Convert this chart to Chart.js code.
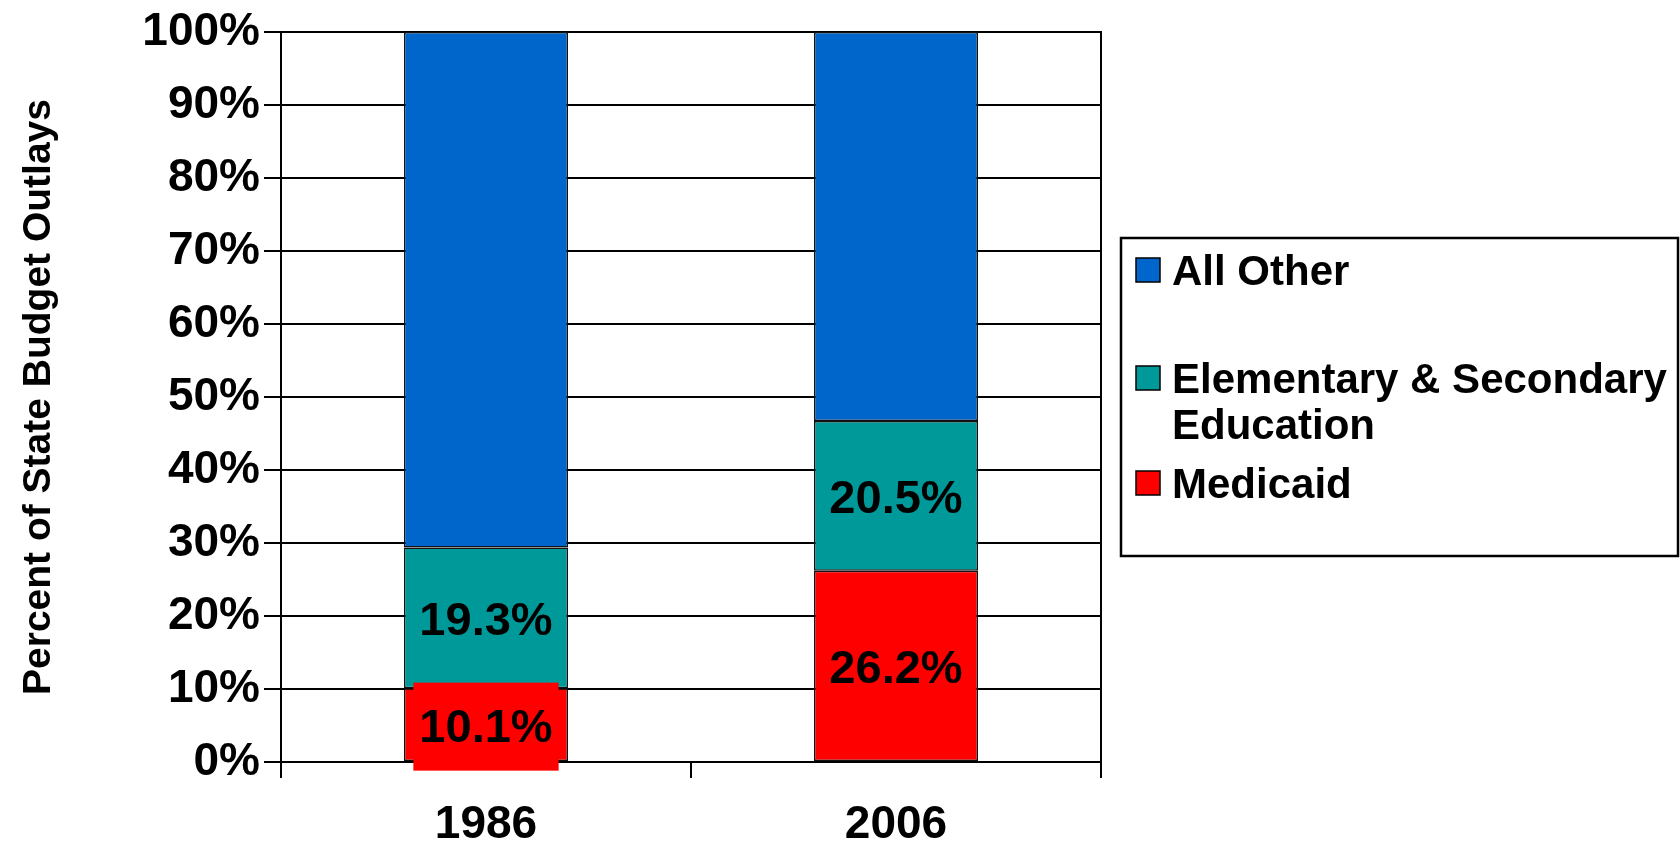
<!DOCTYPE html>
<html lang="en">
  <head>
    <meta charset="UTF-8" />
    <title>State Budget Outlays</title>
    <script src="https://cdn.jsdelivr.net/npm/chart.js@4/dist/chart.umd.min.js"></script>
    <style>
      body { margin: 0; background: #fff; }
      canvas { display: block; }
    </style>
  </head>
  <body>
    <canvas id="budget-chart" width="1680" height="858"></canvas>

    <script>
      // data
      const years = ["1986", "2006"];
      const medicaid = [10.1, 26.2];
      const education = [19.3, 20.5];
      const allOther = [70.6, 53.3];
      const yTicks = [0, 10, 20, 30, 40, 50, 60, 70, 80, 90, 100];

      const FONT = "'Liberation Sans', Arial, sans-serif";

      // labels in the middle of each segment, box filled with the bar colour
      const segmentLabels = {
        id: "segmentLabels",
        afterDatasetsDraw(chart) {
          const ctx = chart.ctx;
          ctx.save();
          ctx.font = "bold 47px " + FONT;
          ctx.textAlign = "center";
          ctx.textBaseline = "middle";
          chart.data.datasets.forEach((ds, i) => {
            if (!ds.showValue) return;
            chart.getDatasetMeta(i).data.forEach((bar, j) => {
              const text = ds.data[j].toFixed(1) + "%";
              const cy = (bar.y + bar.base) / 2 + 2;
              const w = ctx.measureText(text).width + 12;
              ctx.fillStyle = ds.backgroundColor;
              ctx.fillRect(bar.x - w / 2, cy - 44, w, 88);
              ctx.fillStyle = "#000";
              ctx.fillText(text, bar.x, cy + 2);
            });
          });
          ctx.restore();
        },
      };

      // right edge of the plot area
      const plotFrame = {
        id: "plotFrame",
        beforeDatasetsDraw(chart) {
          const { ctx, chartArea } = chart;
          ctx.save();
          ctx.strokeStyle = "#000";
          ctx.lineWidth = 2;
          ctx.beginPath();
          ctx.moveTo(chartArea.right, chartArea.top - 1);
          ctx.lineTo(chartArea.right, chartArea.bottom);
          ctx.stroke();
          ctx.restore();
        },
      };

      // boxed legend on the right, like the PowerPoint one
      const boxLegend = {
        id: "boxLegend",
        afterDraw(chart, args, opts) {
          const ctx = chart.ctx;
          ctx.save();
          ctx.strokeStyle = "#000";
          ctx.lineWidth = 2.5;
          ctx.strokeRect(opts.x, opts.y, opts.w, opts.h);
          ctx.font = "bold 42px " + FONT;
          ctx.textBaseline = "middle";
          const items = chart.data.datasets.slice().reverse();
          items.forEach((ds, k) => {
            const cy = opts.rows[k];
            ctx.fillStyle = ds.backgroundColor;
            ctx.fillRect(opts.x + 15, cy - 12, 24, 24);
            ctx.lineWidth = 1.5;
            ctx.strokeRect(opts.x + 15, cy - 12, 24, 24);
            // wrap words into lines
            const words = ds.label.split(" ");
            const lines = [];
            let cur = "";
            words.forEach((wd) => {
              const test = cur ? cur + " " + wd : wd;
              if (ctx.measureText(test).width > opts.textWidth && cur) {
                lines.push(cur);
                cur = wd;
              } else cur = test;
            });
            lines.push(cur);
            ctx.fillStyle = "#000";
            lines.forEach((ln, n) => {
              ctx.fillText(ln, opts.x + 51, cy + 3 + n * 46);
            });
          });
          ctx.restore();
        },
      };

      const ctx = document.getElementById("budget-chart").getContext("2d");
      new Chart(ctx, {
        type: "bar",
        data: {
          labels: years,
          datasets: [
            {
              label: "Medicaid",
              data: medicaid,
              backgroundColor: "#ff0000",
              showValue: true,
            },
            {
              label: "Elementary & Secondary Education",
              data: education,
              backgroundColor: "#009999",
              showValue: true,
            },
            {
              label: "All Other",
              data: allOther,
              backgroundColor: "#0066cc",
              showValue: false,
            },
          ],
        },
        options: {
          responsive: false,
          animation: false,
          layout: { padding: { left: 0, top: 32, right: 579, bottom: 0 } },
          datasets: {
            bar: {
              categoryPercentage: 1,
              barPercentage: 0.4,
              borderColor: "#111",
              borderWidth: 1.5,
              borderSkipped: false,
            },
          },
          plugins: {
            legend: { display: false },
            tooltip: { enabled: false },
            boxLegend: {
              x: 1121,
              y: 238,
              w: 557,
              h: 318,
              rows: [270, 378, 483],
              textWidth: 510,
            },
          },
          scales: {
            x: {
              stacked: true,
              grid: {
                offset: true,
                drawOnChartArea: false,
                drawTicks: true,
                tickLength: 16,
                color: "#000",
                lineWidth: 2,
              },
              border: { color: "#000", width: 2 },
              ticks: {
                color: "#000",
                padding: 20,
                font: { family: FONT, size: 46, weight: "bold" },
              },
              afterFit(scale) {
                scale.height = 96;
              },
            },
            y: {
              stacked: true,
              min: 0,
              max: 100,
              afterBuildTicks(scale) {
                scale.ticks = yTicks.map((v) => ({ value: v }));
              },
              grid: {
                color: "#000",
                lineWidth: 2,
                tickLength: 17,
              },
              border: { color: "#000", width: 2 },
              ticks: {
                color: "#000",
                padding: 4,
                font: { family: FONT, size: 46, weight: "bold" },
                callback: function (value) {
                  return value + "%";
                },
              },
              title: {
                display: true,
                text: "Percent of State Budget Outlays",
                color: "#000",
                padding: { top: 16, bottom: 0 },
                font: { family: FONT, size: 39, weight: "bold" },
              },
              afterFit(scale) {
                scale.width = 281;
              },
            },
          },
        },
        plugins: [plotFrame, segmentLabels, boxLegend],
      });
    </script>
  </body>
</html>
